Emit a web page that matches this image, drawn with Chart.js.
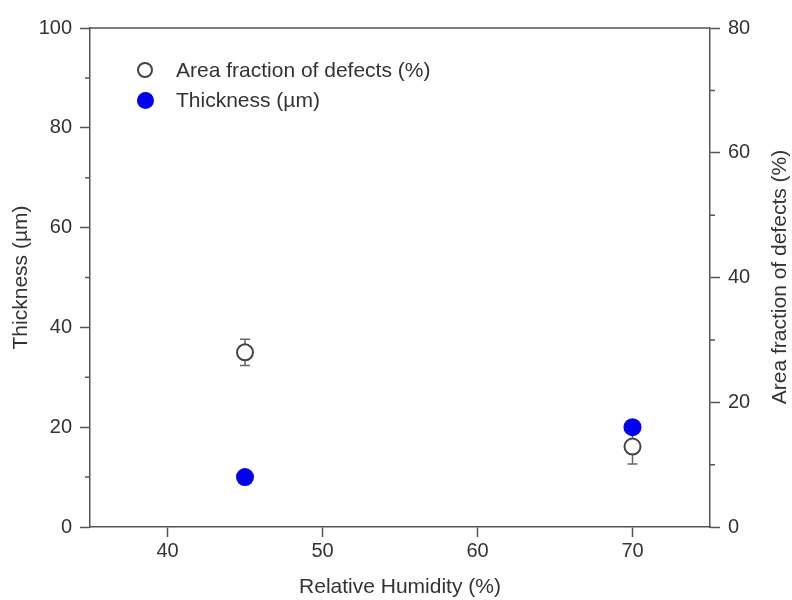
<!DOCTYPE html>
<html>
<head>
<meta charset="utf-8">
<script src="https://cdn.jsdelivr.net/npm/chart.js@4.4.1/dist/chart.umd.min.js"></script>
<style>
  body { margin: 0; background: #fff; }
  #wrap { position: relative; width: 792px; height: 600px; }
  .legend { position: absolute; left: 136px; top: 55px; font: 21px "Liberation Sans", Arial, sans-serif; color: #333; }
  .legend div { height: 30px; display: flex; align-items: center; }
  .mk { width: 18px; height: 18px; display: flex; align-items: center; justify-content: center; margin-right: 22px; }
  .mk span { display: block; border-radius: 50%; box-sizing: border-box; }
  .mk .open { width: 16px; height: 16px; border: 2px solid #444; background: #fff; }
  .mk .blue { width: 17px; height: 17px; background: #0000f0; }
  .ytitle2 { position: absolute; left: 579px; top: 265px; width: 400px; height: 24px; line-height: 24px;
             text-align: center; transform: rotate(-90deg); font: 21px "Liberation Sans", Arial, sans-serif; color: #333; }
</style>
</head>
<body>
<div id="wrap">
  <canvas id="chart" width="792" height="600"></canvas>
  <div class="legend">
    <div><span class="mk"><span class="open"></span></span>Area fraction of defects (%)</div>
    <div><span class="mk"><span class="blue"></span></span>Thickness (µm)</div>
  </div>
  <div class="ytitle2">Area fraction of defects (%)</div>
</div>
<script>
// ── data ──
const humidity    = [45, 70];
const thickness   = [10, 20];     // µm, left axis
const defectArea  = [28.0, 12.9]; // %, right axis
const defectErr   = [2.1, 2.8];

const xTicks      = [40, 50, 60, 70];
const leftTicks   = [0, 20, 40, 60, 80, 100];
const leftMinor   = [10, 30, 50, 70, 90];
const rightTicks  = [0, 20, 40, 60, 80];
const rightMinor  = [10, 30, 50, 70];

const AXIS = "#555";
const TEXT = "#333";
const FAMILY = "'Liberation Sans', Arial, sans-serif";
const TICK_FONT  = { family: FAMILY, size: 20 };
const TITLE_FONT = { family: FAMILY, size: 21 };

// error bars under the open circles
const errorBars = {
  id: "errorBars",
  beforeDatasetsDraw(chart) {
    const { ctx, scales } = chart;
    ctx.save();
    ctx.strokeStyle = "#666";
    ctx.lineWidth = 1.5;
    humidity.forEach((h, i) => {
      const x  = scales.x.getPixelForValue(h);
      const y1 = scales.y2.getPixelForValue(defectArea[i] - defectErr[i]);
      const y2 = scales.y2.getPixelForValue(defectArea[i] + defectErr[i]);
      ctx.beginPath();
      ctx.moveTo(x, y1); ctx.lineTo(x, y2);
      ctx.moveTo(x - 5, y1); ctx.lineTo(x + 5, y1);
      ctx.moveTo(x - 5, y2); ctx.lineTo(x + 5, y2);
      ctx.stroke();
    });
    ctx.restore();
  }
};

// top frame line + short minor ticks
const frame = {
  id: "frame",
  afterDraw(chart) {
    const { ctx, chartArea: a, scales } = chart;
    ctx.save();
    ctx.strokeStyle = AXIS;
    ctx.lineWidth = 1.5;
    ctx.beginPath();
    ctx.moveTo(a.left, a.top); ctx.lineTo(a.right, a.top);
    leftMinor.forEach(v => {
      const y = scales.y.getPixelForValue(v);
      ctx.moveTo(a.left - 5, y); ctx.lineTo(a.left, y);
    });
    rightMinor.forEach(v => {
      const y = scales.y2.getPixelForValue(v);
      ctx.moveTo(a.right, y); ctx.lineTo(a.right + 5, y);
    });
    ctx.stroke();
    ctx.restore();
  }
};

const setTicks = vals => scale => { scale.ticks = vals.map(v => ({ value: v })); };
const gridOpts = { drawOnChartArea: false, tickLength: 10, tickColor: AXIS, tickWidth: 1.5 };

new Chart(document.getElementById("chart"), {
  type: "scatter",
  data: {
    datasets: [
      {
        label: "Thickness (µm)",
        data: humidity.map((h, i) => ({ x: h, y: thickness[i] })),
        yAxisID: "y",
        order: 0,
        pointRadius: 9,
        pointBackgroundColor: "#0000f0",
        pointBorderWidth: 0
      },
      {
        label: "Area fraction of defects (%)",
        data: humidity.map((h, i) => ({ x: h, y: defectArea[i] })),
        yAxisID: "y2",
        order: 1,
        pointRadius: 8,
        pointBackgroundColor: "#fff",
        pointBorderColor: "#444",
        pointBorderWidth: 2
      }
    ]
  },
  options: {
    responsive: false,
    animation: false,
    layout: { padding: { top: 28, left: 0, right: 0, bottom: 0 } },
    plugins: { legend: { display: false }, tooltip: { enabled: false } },
    scales: {
      x: {
        type: "linear", min: 35, max: 75,
        afterBuildTicks: setTicks(xTicks),
        afterFit: s => { s.height = 73; },
        grid: gridOpts,
        border: { color: AXIS, width: 1.5 },
        ticks: { font: TICK_FONT, color: TEXT, padding: 2 },
        title: { display: true, text: "Relative Humidity (%)", font: TITLE_FONT, color: TEXT, padding: { top: 0, bottom: 0 } }
      },
      y: {
        position: "left", min: 0, max: 100,
        afterBuildTicks: setTicks(leftTicks),
        afterFit: s => { s.width = 90; },
        grid: gridOpts,
        border: { color: AXIS, width: 1.5 },
        ticks: { font: TICK_FONT, color: TEXT, padding: 8 },
        title: { display: true, text: "Thickness (µm)", font: TITLE_FONT, color: TEXT, padding: { top: 9, bottom: 0 } }
      },
      y2: {
        position: "right", min: 0, max: 80,
        afterBuildTicks: setTicks(rightTicks),
        afterFit: s => { s.width = 82; },
        grid: gridOpts,
        border: { color: AXIS, width: 1.5 },
        ticks: { font: TICK_FONT, color: TEXT, padding: 8 }
      }
    }
  },
  plugins: [errorBars, frame]
});
</script>
</body>
</html>
